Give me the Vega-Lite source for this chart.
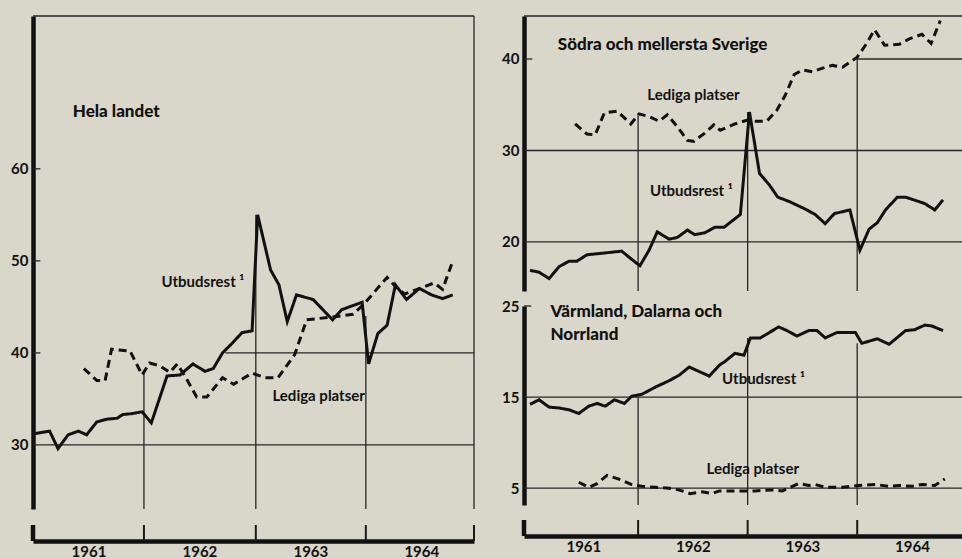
{
  "$schema": "https://vega.github.io/schema/vega-lite/v6.json",
  "background": "#d9d6ca",
  "padding": {"left": 10, "top": 14, "right": 0, "bottom": 0},
  "config": {"view": {"stroke": null}, "font": "Lato"},
  "datasets": {
    "hela": [
      {"series":"Utbudsrest","t":0.0,"v":31.2},{"series":"Utbudsrest","t":1.8,"v":31.5},{"series":"Utbudsrest","t":2.7,"v":29.6},{"series":"Utbudsrest","t":3.8,"v":31.1},{"series":"Utbudsrest","t":4.9,"v":31.5},{"series":"Utbudsrest","t":5.8,"v":31.1},{"series":"Utbudsrest","t":6.9,"v":32.5},{"series":"Utbudsrest","t":8.0,"v":32.8},{"series":"Utbudsrest","t":9.1,"v":32.9},{"series":"Utbudsrest","t":9.7,"v":33.3},{"series":"Utbudsrest","t":10.7,"v":33.4},{"series":"Utbudsrest","t":11.8,"v":33.6},{"series":"Utbudsrest","t":12.8,"v":32.4},{"series":"Utbudsrest","t":14.5,"v":37.5},{"series":"Utbudsrest","t":15.9,"v":37.6},{"series":"Utbudsrest","t":17.3,"v":38.8},{"series":"Utbudsrest","t":18.6,"v":38.0},{"series":"Utbudsrest","t":19.5,"v":38.3},{"series":"Utbudsrest","t":20.5,"v":40.0},{"series":"Utbudsrest","t":21.6,"v":41.1},{"series":"Utbudsrest","t":22.6,"v":42.2},{"series":"Utbudsrest","t":23.7,"v":42.4},{"series":"Utbudsrest","t":24.3,"v":55.0},{"series":"Utbudsrest","t":25.7,"v":49.0},{"series":"Utbudsrest","t":26.6,"v":47.4},{"series":"Utbudsrest","t":27.5,"v":43.4},{"series":"Utbudsrest","t":28.5,"v":46.3},{"series":"Utbudsrest","t":30.3,"v":45.8},{"series":"Utbudsrest","t":32.4,"v":43.6},{"series":"Utbudsrest","t":33.4,"v":44.7},{"series":"Utbudsrest","t":35.6,"v":45.5},{"series":"Utbudsrest","t":36.3,"v":38.8},{"series":"Utbudsrest","t":37.3,"v":42.1},{"series":"Utbudsrest","t":38.3,"v":43.0},{"series":"Utbudsrest","t":39.2,"v":47.4},{"series":"Utbudsrest","t":40.4,"v":45.8},{"series":"Utbudsrest","t":41.8,"v":47.0},{"series":"Utbudsrest","t":43.1,"v":46.3},{"series":"Utbudsrest","t":44.3,"v":45.9},{"series":"Utbudsrest","t":45.4,"v":46.3},
      {"series":"Lediga platser","t":5.5,"v":38.3},{"series":"Lediga platser","t":6.9,"v":37.0},{"series":"Lediga platser","t":7.8,"v":37.0},{"series":"Lediga platser","t":8.5,"v":40.4},{"series":"Lediga platser","t":10.5,"v":40.2},{"series":"Lediga platser","t":11.8,"v":37.6},{"series":"Lediga platser","t":12.6,"v":38.9},{"series":"Lediga platser","t":13.7,"v":38.6},{"series":"Lediga platser","t":14.8,"v":37.9},{"series":"Lediga platser","t":15.6,"v":38.8},{"series":"Lediga platser","t":16.6,"v":37.2},{"series":"Lediga platser","t":17.7,"v":35.2},{"series":"Lediga platser","t":18.8,"v":35.2},{"series":"Lediga platser","t":20.5,"v":37.3},{"series":"Lediga platser","t":21.7,"v":36.6},{"series":"Lediga platser","t":23.7,"v":37.8},{"series":"Lediga platser","t":25.1,"v":37.3},{"series":"Lediga platser","t":26.5,"v":37.3},{"series":"Lediga platser","t":28.3,"v":39.8},{"series":"Lediga platser","t":29.6,"v":43.6},{"series":"Lediga platser","t":32.4,"v":43.9},{"series":"Lediga platser","t":34.6,"v":44.2},{"series":"Lediga platser","t":35.7,"v":45.2},{"series":"Lediga platser","t":38.3,"v":48.2},{"series":"Lediga platser","t":39.4,"v":47.0},{"series":"Lediga platser","t":40.2,"v":46.4},{"series":"Lediga platser","t":43.4,"v":47.6},{"series":"Lediga platser","t":44.3,"v":46.9},{"series":"Lediga platser","t":45.3,"v":49.7}
    ],
    "sodra": [
      {"series":"Utbudsrest","t":0.16,"v":16.9},{"series":"Utbudsrest","t":1.15,"v":16.7},{"series":"Utbudsrest","t":2.25,"v":16.0},{"series":"Utbudsrest","t":3.34,"v":17.3},{"series":"Utbudsrest","t":4.44,"v":17.9},{"series":"Utbudsrest","t":5.3,"v":17.9},{"series":"Utbudsrest","t":6.4,"v":18.6},{"series":"Utbudsrest","t":8.4,"v":18.8},{"series":"Utbudsrest","t":10.2,"v":19.0},{"series":"Utbudsrest","t":11.3,"v":18.1},{"series":"Utbudsrest","t":12.2,"v":17.4},{"series":"Utbudsrest","t":13.2,"v":19.1},{"series":"Utbudsrest","t":14.1,"v":21.1},{"series":"Utbudsrest","t":15.4,"v":20.3},{"series":"Utbudsrest","t":16.3,"v":20.5},{"series":"Utbudsrest","t":17.4,"v":21.3},{"series":"Utbudsrest","t":18.2,"v":20.8},{"series":"Utbudsrest","t":19.3,"v":21.0},{"series":"Utbudsrest","t":20.4,"v":21.6},{"series":"Utbudsrest","t":21.4,"v":21.6},{"series":"Utbudsrest","t":23.2,"v":23.0},{"series":"Utbudsrest","t":24.2,"v":34.2},{"series":"Utbudsrest","t":25.3,"v":27.5},{"series":"Utbudsrest","t":26.4,"v":26.2},{"series":"Utbudsrest","t":27.3,"v":24.9},{"series":"Utbudsrest","t":28.6,"v":24.4},{"series":"Utbudsrest","t":30.3,"v":23.6},{"series":"Utbudsrest","t":31.4,"v":23.0},{"series":"Utbudsrest","t":32.5,"v":22.0},{"series":"Utbudsrest","t":33.5,"v":23.1},{"series":"Utbudsrest","t":35.2,"v":23.5},{"series":"Utbudsrest","t":36.3,"v":19.1},{"series":"Utbudsrest","t":37.3,"v":21.4},{"series":"Utbudsrest","t":38.2,"v":22.1},{"series":"Utbudsrest","t":39.1,"v":23.5},{"series":"Utbudsrest","t":40.4,"v":24.9},{"series":"Utbudsrest","t":41.3,"v":24.9},{"series":"Utbudsrest","t":43.4,"v":24.2},{"series":"Utbudsrest","t":44.5,"v":23.5},{"series":"Utbudsrest","t":45.4,"v":24.6},
      {"series":"Lediga platser","t":5.1,"v":32.9},{"series":"Lediga platser","t":6.4,"v":31.8},{"series":"Lediga platser","t":7.3,"v":31.7},{"series":"Lediga platser","t":8.3,"v":34.1},{"series":"Lediga platser","t":9.7,"v":34.3},{"series":"Lediga platser","t":11.2,"v":32.9},{"series":"Lediga platser","t":12.1,"v":34.0},{"series":"Lediga platser","t":13.2,"v":33.7},{"series":"Lediga platser","t":14.3,"v":33.2},{"series":"Lediga platser","t":15.2,"v":33.9},{"series":"Lediga platser","t":16.3,"v":32.6},{"series":"Lediga platser","t":17.4,"v":31.1},{"series":"Lediga platser","t":18.1,"v":31.0},{"series":"Lediga platser","t":19.3,"v":31.9},{"series":"Lediga platser","t":20.3,"v":32.8},{"series":"Lediga platser","t":21.0,"v":32.2},{"series":"Lediga platser","t":22.6,"v":32.9},{"series":"Lediga platser","t":23.9,"v":33.3},{"series":"Lediga platser","t":24.8,"v":33.2},{"series":"Lediga platser","t":26.1,"v":33.2},{"series":"Lediga platser","t":27.2,"v":34.4},{"series":"Lediga platser","t":28.1,"v":36.0},{"series":"Lediga platser","t":29.1,"v":38.3},{"series":"Lediga platser","t":30.0,"v":38.8},{"series":"Lediga platser","t":31.1,"v":38.6},{"series":"Lediga platser","t":32.2,"v":39.0},{"series":"Lediga platser","t":33.3,"v":39.3},{"series":"Lediga platser","t":34.4,"v":39.1},{"series":"Lediga platser","t":36.0,"v":40.2},{"series":"Lediga platser","t":36.9,"v":41.5},{"series":"Lediga platser","t":37.9,"v":43.2},{"series":"Lediga platser","t":39.0,"v":41.5},{"series":"Lediga platser","t":40.6,"v":41.6},{"series":"Lediga platser","t":41.7,"v":42.2},{"series":"Lediga platser","t":43.1,"v":42.7},{"series":"Lediga platser","t":44.1,"v":41.7},{"series":"Lediga platser","t":45.1,"v":44.2}
    ],
    "norr": [
      {"series":"Utbudsrest","t":0.16,"v":14.2},{"series":"Utbudsrest","t":1.15,"v":14.7},{"series":"Utbudsrest","t":2.25,"v":13.9},{"series":"Utbudsrest","t":3.34,"v":13.8},{"series":"Utbudsrest","t":4.44,"v":13.6},{"series":"Utbudsrest","t":5.5,"v":13.2},{"series":"Utbudsrest","t":6.6,"v":14.0},{"series":"Utbudsrest","t":7.5,"v":14.3},{"series":"Utbudsrest","t":8.4,"v":14.0},{"series":"Utbudsrest","t":9.4,"v":14.7},{"series":"Utbudsrest","t":10.5,"v":14.3},{"series":"Utbudsrest","t":11.3,"v":15.1},{"series":"Utbudsrest","t":12.4,"v":15.3},{"series":"Utbudsrest","t":13.9,"v":16.1},{"series":"Utbudsrest","t":15.4,"v":16.8},{"series":"Utbudsrest","t":16.5,"v":17.4},{"series":"Utbudsrest","t":17.6,"v":18.3},{"series":"Utbudsrest","t":18.7,"v":17.8},{"series":"Utbudsrest","t":19.8,"v":17.3},{"series":"Utbudsrest","t":20.9,"v":18.5},{"series":"Utbudsrest","t":21.5,"v":18.9},{"series":"Utbudsrest","t":22.6,"v":19.8},{"series":"Utbudsrest","t":23.6,"v":19.6},{"series":"Utbudsrest","t":24.3,"v":21.5},{"series":"Utbudsrest","t":25.4,"v":21.5},{"series":"Utbudsrest","t":26.4,"v":22.1},{"series":"Utbudsrest","t":27.4,"v":22.7},{"series":"Utbudsrest","t":28.3,"v":22.3},{"series":"Utbudsrest","t":29.4,"v":21.7},{"series":"Utbudsrest","t":30.7,"v":22.3},{"series":"Utbudsrest","t":31.6,"v":22.3},{"series":"Utbudsrest","t":32.5,"v":21.5},{"series":"Utbudsrest","t":33.8,"v":22.1},{"series":"Utbudsrest","t":35.8,"v":22.1},{"series":"Utbudsrest","t":36.5,"v":20.9},{"series":"Utbudsrest","t":38.2,"v":21.4},{"series":"Utbudsrest","t":39.5,"v":20.8},{"series":"Utbudsrest","t":41.3,"v":22.3},{"series":"Utbudsrest","t":42.3,"v":22.4},{"series":"Utbudsrest","t":43.4,"v":22.9},{"series":"Utbudsrest","t":44.2,"v":22.8},{"series":"Utbudsrest","t":45.4,"v":22.3},
      {"series":"Lediga platser","t":5.5,"v":5.65},{"series":"Lediga platser","t":6.6,"v":5.1},{"series":"Lediga platser","t":7.5,"v":5.5},{"series":"Lediga platser","t":8.6,"v":6.4},{"series":"Lediga platser","t":9.9,"v":6.0},{"series":"Lediga platser","t":11.3,"v":5.4},{"series":"Lediga platser","t":12.4,"v":5.2},{"series":"Lediga platser","t":13.9,"v":5.1},{"series":"Lediga platser","t":15.4,"v":5.0},{"series":"Lediga platser","t":16.5,"v":4.8},{"series":"Lediga platser","t":17.7,"v":4.4},{"series":"Lediga platser","t":19.0,"v":4.6},{"series":"Lediga platser","t":20.1,"v":4.4},{"series":"Lediga platser","t":20.9,"v":4.7},{"series":"Lediga platser","t":22.6,"v":4.7},{"series":"Lediga platser","t":24.8,"v":4.7},{"series":"Lediga platser","t":26.7,"v":4.8},{"series":"Lediga platser","t":27.8,"v":4.7},{"series":"Lediga platser","t":28.7,"v":5.1},{"series":"Lediga platser","t":29.6,"v":5.5},{"series":"Lediga platser","t":30.7,"v":5.3},{"series":"Lediga platser","t":31.4,"v":5.4},{"series":"Lediga platser","t":32.5,"v":5.1},{"series":"Lediga platser","t":34.4,"v":5.1},{"series":"Lediga platser","t":36.2,"v":5.3},{"series":"Lediga platser","t":38.0,"v":5.4},{"series":"Lediga platser","t":39.5,"v":5.2},{"series":"Lediga platser","t":40.6,"v":5.3},{"series":"Lediga platser","t":42.0,"v":5.2},{"series":"Lediga platser","t":43.1,"v":5.4},{"series":"Lediga platser","t":44.5,"v":5.3},{"series":"Lediga platser","t":45.6,"v":6.0}
    ]
  },
  "spacing": 26,
  "resolve": {"scale": {"x": "independent", "y": "independent"}},
  "hconcat": [
    {
      "spacing": 16,
      "bounds": "flush",
      "resolve": {"scale": {"x": "independent", "y": "independent"}},
      "vconcat": [
        {
          "width": 441,
          "height": 493,
          "layer": [
            {
              "data": {"values": [
                {"x":0,"x2":47.7,"y":30,"y2":30},
                {"x":20.8,"x2":47.7,"y":40,"y2":40},
                {"x":0,"x2":0.8,"y":40,"y2":40},
                {"x":0,"x2":0.8,"y":50,"y2":50},
                {"x":0,"x2":0.8,"y":60,"y2":60},
                {"x":12,"x2":12,"y":23.04,"y2":38.0},
                {"x":24.1,"x2":24.1,"y":23.04,"y2":55.0},
                {"x":36,"x2":36,"y":23.04,"y2":44.0},
                {"x":0,"x2":47.7,"y":76.6,"y2":76.6},
                {"x":47.7,"x2":47.7,"y":23.04,"y2":76.6}
              ]},
              "mark": {"type": "rule", "color": "#262626", "strokeWidth": 1.3},
              "encoding": {
                "x": {"field": "x", "type": "quantitative", "scale": {"domain": [0, 47.7], "nice": false, "zero": false}, "axis": null},
                "x2": {"field": "x2"},
                "y": {"field": "y", "type": "quantitative", "scale": {"domain": [23.04, 76.6], "nice": false, "zero": false},
                      "axis": {"values": [30, 40, 50, 60], "title": null, "grid": false, "ticks": false, "domainColor": "#111", "domainWidth": 4.5, "labelFont": "Lato", "labelFontWeight": "bold", "labelFontSize": 15, "labelColor": "#111", "labelPadding": 5}},
                "y2": {"field": "y2"}
              }
            },
            {
              "data": {"name": "hela"},
              "mark": {"type": "line", "strokeWidth": 3, "color": "#111", "strokeJoin": "miter"},
              "encoding": {
                "x": {"field": "t", "type": "quantitative"},
                "y": {"field": "v", "type": "quantitative"},
                "strokeDash": {"field": "series", "type": "nominal", "scale": {"domain": ["Utbudsrest", "Lediga platser"], "range": [[1, 0], [8, 5]]}, "legend": null}
              }
            },
            {
              "data": {"values": [{"t": 4.3, "v": 66.2, "label": "Hela landet"}]},
              "mark": {"type": "text", "align": "left", "baseline": "middle", "font": "Lato", "fontWeight": 900, "fontSize": 17, "color": "#111"},
              "encoding": {"x": {"field": "t", "type": "quantitative"}, "y": {"field": "v", "type": "quantitative"}, "text": {"field": "label"}}
            },
            {
              "data": {"values": [{"t": 13.9, "v": 47.7, "label": "Utbudsrest ¹"}, {"t": 25.9, "v": 35.3, "label": "Lediga platser"}]},
              "mark": {"type": "text", "align": "left", "baseline": "middle", "font": "Lato", "fontWeight": "bold", "fontSize": 15, "color": "#111"},
              "encoding": {"x": {"field": "t", "type": "quantitative"}, "y": {"field": "v", "type": "quantitative"}, "text": {"field": "label"}}
            }
          ]
        },
        {
          "width": 441,
          "height": 16,
          "layer": [
            {
              "data": {"values": [{"t": 12, "y": 0, "y2": 1}, {"t": 24.1, "y": 0, "y2": 1}, {"t": 36, "y": 0, "y2": 1}, {"t": 47.7, "y": 0, "y2": 1}]},
              "mark": {"type": "rule", "color": "#1a1a1a", "strokeWidth": 2},
              "encoding": {
                "x": {"field": "t", "type": "quantitative", "scale": {"domain": [0, 47.7], "nice": false, "zero": false},
                      "axis": {"values": [6, 18, 30, 42], "labelExpr": "'' + (1961 + (datum.value - 6) / 12)", "title": null, "grid": false, "ticks": false, "domainColor": "#111", "domainWidth": 4.5, "labelFont": "Lato", "labelFontWeight": "bold", "labelFontSize": 15, "labelColor": "#111", "labelPadding": 3}},
                "y": {"field": "y", "type": "quantitative", "scale": {"domain": [0, 1], "nice": false}, "axis": null},
                "y2": {"field": "y2"}
              }
            },
            {
              "data": {"values": [{"t": 0, "y": 0, "y2": 1}]},
              "mark": {"type": "rule", "color": "#111", "strokeWidth": 4.5},
              "encoding": {"x": {"field": "t", "type": "quantitative"}, "y": {"field": "y", "type": "quantitative"}, "y2": {"field": "y2"}}
            }
          ]
        }
      ]
    },
    {
      "spacing": 15,
      "bounds": "flush",
      "resolve": {"scale": {"x": "independent", "y": "independent"}},
      "vconcat": [
        {
          "width": 440,
          "height": 275,
          "layer": [
            {
              "data": {"values": [
                {"x":-0.5,"x2":47.7,"y":20,"y2":20},
                {"x":-0.5,"x2":47.7,"y":30,"y2":30},
                {"x":36,"x2":47.7,"y":40,"y2":40},
                {"x":-0.5,"x2":0.4,"y":40,"y2":40},
                {"x":12,"x2":12,"y":14.64,"y2":34.0},
                {"x":24,"x2":24,"y":14.64,"y2":34.2},
                {"x":36,"x2":36,"y":14.64,"y2":40.2},
                {"x":-0.5,"x2":47.7,"y":44.7,"y2":44.7}
              ]},
              "mark": {"type": "rule", "color": "#262626", "strokeWidth": 1.3},
              "encoding": {
                "x": {"field": "x", "type": "quantitative", "scale": {"domain": [-0.5, 47.7], "nice": false, "zero": false}, "axis": null},
                "x2": {"field": "x2"},
                "y": {"field": "y", "type": "quantitative", "scale": {"domain": [14.64, 44.7], "nice": false, "zero": false},
                      "axis": {"values": [20, 30, 40], "title": null, "grid": false, "ticks": false, "domainColor": "#111", "domainWidth": 4.5, "labelFont": "Lato", "labelFontWeight": "bold", "labelFontSize": 15, "labelColor": "#111", "labelPadding": 5}},
                "y2": {"field": "y2"}
              }
            },
            {
              "data": {"name": "sodra"},
              "mark": {"type": "line", "strokeWidth": 3, "color": "#111", "strokeJoin": "miter"},
              "encoding": {
                "x": {"field": "t", "type": "quantitative"},
                "y": {"field": "v", "type": "quantitative"},
                "strokeDash": {"field": "series", "type": "nominal", "scale": {"domain": ["Utbudsrest", "Lediga platser"], "range": [[1, 0], [8, 5]]}, "legend": null}
              }
            },
            {
              "data": {"values": [{"t": 3.2, "v": 41.5, "label": "Södra och mellersta Sverige"}]},
              "mark": {"type": "text", "align": "left", "baseline": "middle", "font": "Lato", "fontWeight": 900, "fontSize": 17, "color": "#111"},
              "encoding": {"x": {"field": "t", "type": "quantitative"}, "y": {"field": "v", "type": "quantitative"}, "text": {"field": "label"}}
            },
            {
              "data": {"values": [{"t": 13.0, "v": 36.1, "label": "Lediga platser"}, {"t": 13.3, "v": 25.6, "label": "Utbudsrest ¹"}]},
              "mark": {"type": "text", "align": "left", "baseline": "middle", "font": "Lato", "fontWeight": "bold", "fontSize": 15, "color": "#111"},
              "encoding": {"x": {"field": "t", "type": "quantitative"}, "y": {"field": "v", "type": "quantitative"}, "text": {"field": "label"}}
            }
          ]
        },
        {
          "width": 440,
          "height": 199,
          "layer": [
            {
              "data": {"values": [
                {"x":-0.5,"x2":47.7,"y":5,"y2":5},
                {"x":-0.5,"x2":47.7,"y":15,"y2":15},
                {"x":-0.5,"x2":0.3,"y":25,"y2":25},
                {"x":12,"x2":12,"y":3.15,"y2":15},
                {"x":24,"x2":24,"y":3.15,"y2":21.5},
                {"x":36,"x2":36,"y":3.15,"y2":20.9}
              ]},
              "mark": {"type": "rule", "color": "#262626", "strokeWidth": 1.3},
              "encoding": {
                "x": {"field": "x", "type": "quantitative", "scale": {"domain": [-0.5, 47.7], "nice": false, "zero": false}, "axis": null},
                "x2": {"field": "x2"},
                "y": {"field": "y", "type": "quantitative", "scale": {"domain": [3.15, 25], "nice": false, "zero": false},
                      "axis": {"values": [5, 15, 25], "title": null, "grid": false, "ticks": false, "domainColor": "#111", "domainWidth": 4.5, "labelFont": "Lato", "labelFontWeight": "bold", "labelFontSize": 15, "labelColor": "#111", "labelPadding": 5}},
                "y2": {"field": "y2"}
              }
            },
            {
              "data": {"name": "norr"},
              "mark": {"type": "line", "strokeWidth": 3, "color": "#111", "strokeJoin": "miter"},
              "encoding": {
                "x": {"field": "t", "type": "quantitative"},
                "y": {"field": "v", "type": "quantitative"},
                "strokeDash": {"field": "series", "type": "nominal", "scale": {"domain": ["Utbudsrest", "Lediga platser"], "range": [[1, 0], [8, 5]]}, "legend": null}
              }
            },
            {
              "data": {"values": [{"t": 2.4, "v": 24.3, "label": "Värmland, Dalarna och"}, {"t": 2.4, "v": 21.8, "label": "Norrland"}]},
              "mark": {"type": "text", "align": "left", "baseline": "middle", "font": "Lato", "fontWeight": 900, "fontSize": 17, "color": "#111"},
              "encoding": {"x": {"field": "t", "type": "quantitative"}, "y": {"field": "v", "type": "quantitative"}, "text": {"field": "label"}}
            },
            {
              "data": {"values": [{"t": 21.2, "v": 17.0, "label": "Utbudsrest ¹"}, {"t": 19.5, "v": 7.1, "label": "Lediga platser"}]},
              "mark": {"type": "text", "align": "left", "baseline": "middle", "font": "Lato", "fontWeight": "bold", "fontSize": 15, "color": "#111"},
              "encoding": {"x": {"field": "t", "type": "quantitative"}, "y": {"field": "v", "type": "quantitative"}, "text": {"field": "label"}}
            }
          ]
        },
        {
          "width": 440,
          "height": 16,
          "layer": [
            {
              "data": {"values": [{"t": 12, "y": 0, "y2": 1}, {"t": 24, "y": 0, "y2": 1}, {"t": 36, "y": 0, "y2": 1}]},
              "mark": {"type": "rule", "color": "#1a1a1a", "strokeWidth": 2},
              "encoding": {
                "x": {"field": "t", "type": "quantitative", "scale": {"domain": [-0.5, 47.7], "nice": false, "zero": false},
                      "axis": {"values": [6, 18, 30, 42], "labelExpr": "'' + (1961 + (datum.value - 6) / 12)", "title": null, "grid": false, "ticks": false, "domainColor": "#111", "domainWidth": 4.5, "labelFont": "Lato", "labelFontWeight": "bold", "labelFontSize": 15, "labelColor": "#111", "labelPadding": 3}},
                "y": {"field": "y", "type": "quantitative", "scale": {"domain": [0, 1], "nice": false}, "axis": null},
                "y2": {"field": "y2"}
              }
            },
            {
              "data": {"values": [{"t": -0.5, "y": 0, "y2": 1}]},
              "mark": {"type": "rule", "color": "#111", "strokeWidth": 4.5},
              "encoding": {"x": {"field": "t", "type": "quantitative"}, "y": {"field": "y", "type": "quantitative"}, "y2": {"field": "y2"}}
            }
          ]
        }
      ]
    }
  ]
}
